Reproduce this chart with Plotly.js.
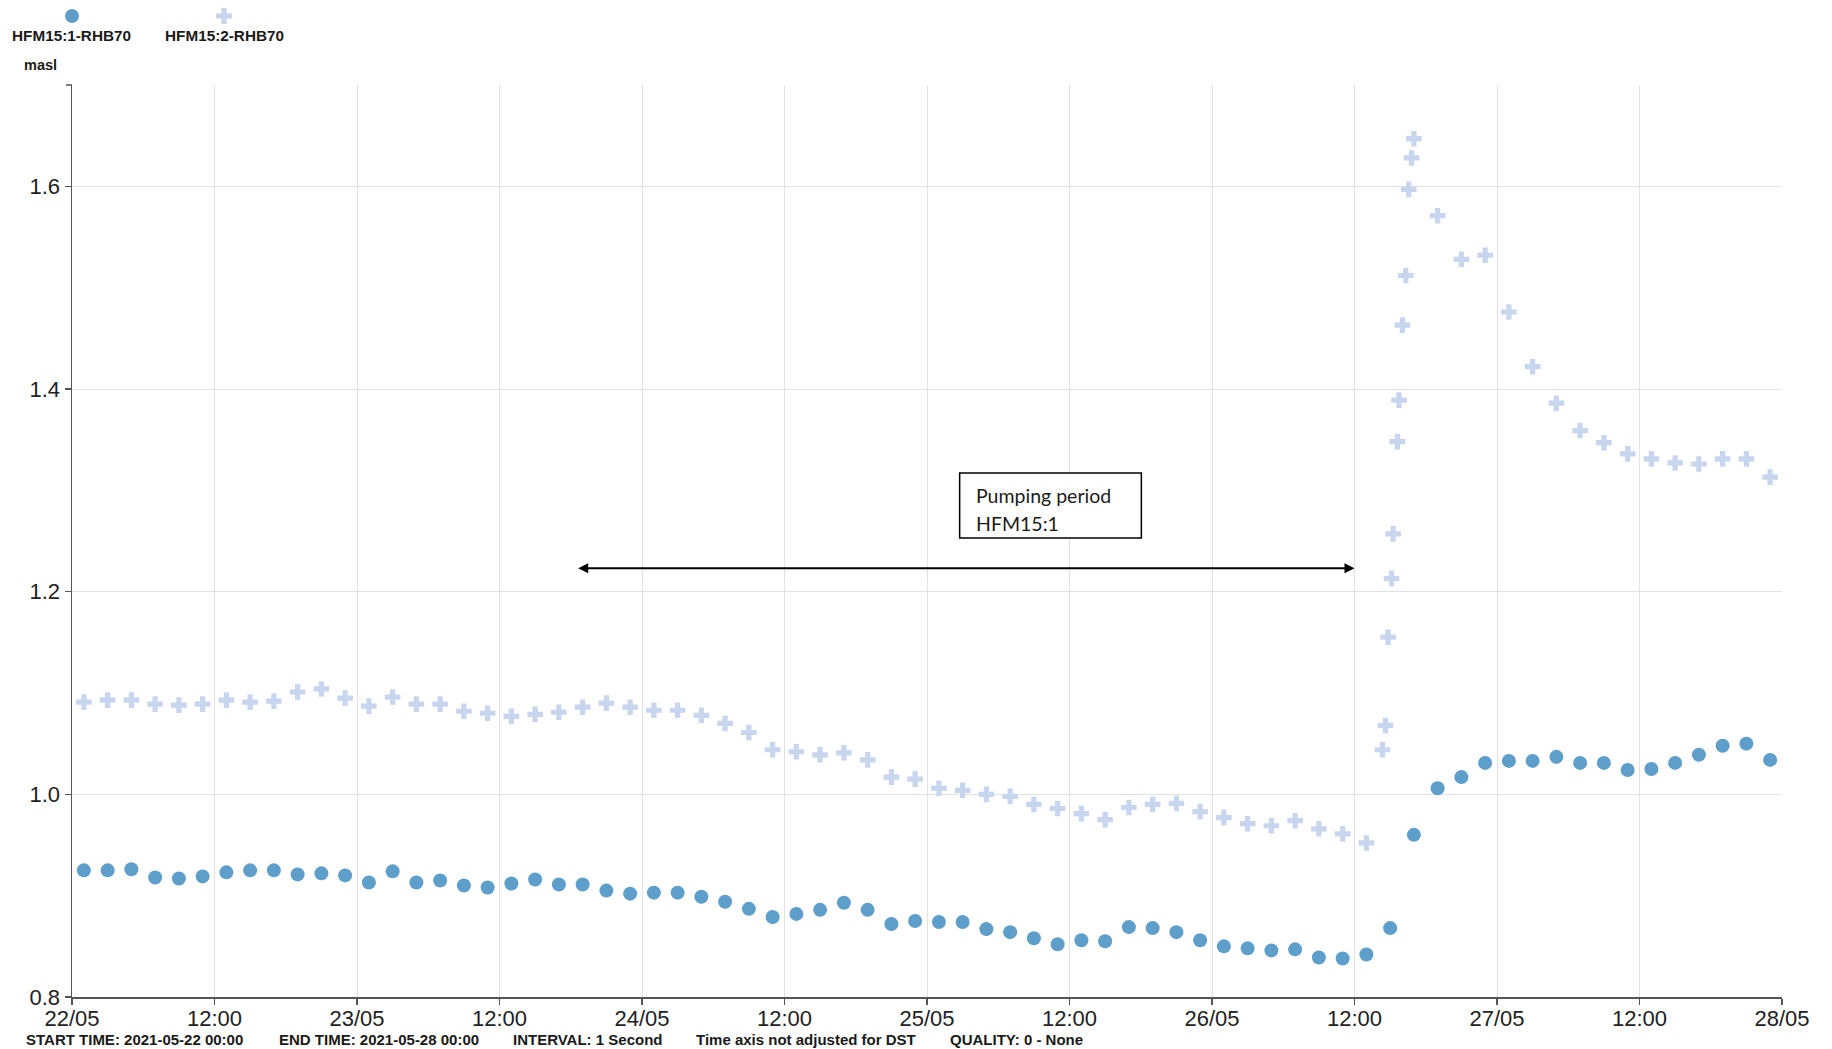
<!DOCTYPE html>
<html>
<head>
<meta charset="utf-8">
<script src="https://cdn.plot.ly/plotly-3.0.1.min.js"></script>
<style>
  html, body { margin: 0; padding: 0; background: #ffffff; }
  #chart { width: 1832px; height: 1049px; }
</style>
</head>
<body>
<div id="chart"></div>
<script>
// HFM15:1-RHB70 — sampled every two hours
const hfm151Times = [
  '2021-05-22 01:00','2021-05-22 03:00','2021-05-22 05:00','2021-05-22 07:00','2021-05-22 09:00','2021-05-22 11:00',
  '2021-05-22 13:00','2021-05-22 15:00','2021-05-22 17:00','2021-05-22 19:00','2021-05-22 21:00','2021-05-22 23:00',
  '2021-05-23 01:00','2021-05-23 03:00','2021-05-23 05:00','2021-05-23 07:00','2021-05-23 09:00','2021-05-23 11:00',
  '2021-05-23 13:00','2021-05-23 15:00','2021-05-23 17:00','2021-05-23 19:00','2021-05-23 21:00','2021-05-23 23:00',
  '2021-05-24 01:00','2021-05-24 03:00','2021-05-24 05:00','2021-05-24 07:00','2021-05-24 09:00','2021-05-24 11:00',
  '2021-05-24 13:00','2021-05-24 15:00','2021-05-24 17:00','2021-05-24 19:00','2021-05-24 21:00','2021-05-24 23:00',
  '2021-05-25 01:00','2021-05-25 03:00','2021-05-25 05:00','2021-05-25 07:00','2021-05-25 09:00','2021-05-25 11:00',
  '2021-05-25 13:00','2021-05-25 15:00','2021-05-25 17:00','2021-05-25 19:00','2021-05-25 21:00','2021-05-25 23:00',
  '2021-05-26 01:00','2021-05-26 03:00','2021-05-26 05:00','2021-05-26 07:00','2021-05-26 09:00','2021-05-26 11:00',
  '2021-05-26 13:00','2021-05-26 15:00','2021-05-26 17:00','2021-05-26 19:00','2021-05-26 21:00','2021-05-26 23:00',
  '2021-05-27 01:00','2021-05-27 03:00','2021-05-27 05:00','2021-05-27 07:00','2021-05-27 09:00','2021-05-27 11:00',
  '2021-05-27 13:00','2021-05-27 15:00','2021-05-27 17:00','2021-05-27 19:00','2021-05-27 21:00','2021-05-27 23:00'
];
const hfm151Level = [
  0.925, 0.925, 0.926, 0.918, 0.917, 0.919, 0.923, 0.925, 0.925, 0.921, 0.922, 0.920,
  0.913, 0.924, 0.913, 0.915, 0.910, 0.908, 0.912, 0.916, 0.911, 0.911, 0.905, 0.902,
  0.903, 0.903, 0.899, 0.894, 0.887, 0.879, 0.882, 0.886, 0.893, 0.886, 0.872, 0.875,
  0.874, 0.874, 0.867, 0.864, 0.858, 0.852, 0.856, 0.855, 0.869, 0.868, 0.864, 0.856,
  0.850, 0.848, 0.846, 0.847, 0.839, 0.838, 0.842, 0.868, 0.960, 1.006, 1.017, 1.031,
  1.033, 1.033, 1.037, 1.031, 1.031, 1.024, 1.025, 1.031, 1.039, 1.048, 1.050, 1.034
];

// HFM15:2-RHB70 — two-hourly, denser while the pump stops on 26/05
const hfm152Times = [
  '2021-05-22 01:00','2021-05-22 03:00','2021-05-22 05:00','2021-05-22 07:00','2021-05-22 09:00','2021-05-22 11:00',
  '2021-05-22 13:00','2021-05-22 15:00','2021-05-22 17:00','2021-05-22 19:00','2021-05-22 21:00','2021-05-22 23:00',
  '2021-05-23 01:00','2021-05-23 03:00','2021-05-23 05:00','2021-05-23 07:00','2021-05-23 09:00','2021-05-23 11:00',
  '2021-05-23 13:00','2021-05-23 15:00','2021-05-23 17:00','2021-05-23 19:00','2021-05-23 21:00','2021-05-23 23:00',
  '2021-05-24 01:00','2021-05-24 03:00','2021-05-24 05:00','2021-05-24 07:00','2021-05-24 09:00','2021-05-24 11:00',
  '2021-05-24 13:00','2021-05-24 15:00','2021-05-24 17:00','2021-05-24 19:00','2021-05-24 21:00','2021-05-24 23:00',
  '2021-05-25 01:00','2021-05-25 03:00','2021-05-25 05:00','2021-05-25 07:00','2021-05-25 09:00','2021-05-25 11:00',
  '2021-05-25 13:00','2021-05-25 15:00','2021-05-25 17:00','2021-05-25 19:00','2021-05-25 21:00','2021-05-25 23:00',
  '2021-05-26 01:00','2021-05-26 03:00','2021-05-26 05:00','2021-05-26 07:00','2021-05-26 09:00','2021-05-26 11:00',
  '2021-05-26 13:00',
  '2021-05-26 14:21','2021-05-26 14:37','2021-05-26 14:50','2021-05-26 15:07','2021-05-26 15:15','2021-05-26 15:37',
  '2021-05-26 15:45','2021-05-26 16:02','2021-05-26 16:19','2021-05-26 16:34','2021-05-26 16:48',
  '2021-05-26 17:00','2021-05-26 19:00','2021-05-26 21:00','2021-05-26 23:00',
  '2021-05-27 01:00','2021-05-27 03:00','2021-05-27 05:00','2021-05-27 07:00','2021-05-27 09:00','2021-05-27 11:00',
  '2021-05-27 13:00','2021-05-27 15:00','2021-05-27 17:00','2021-05-27 19:00','2021-05-27 21:00','2021-05-27 23:00'
];
const hfm152Level = [
  1.091, 1.093, 1.093, 1.089, 1.088, 1.089, 1.093, 1.091, 1.092, 1.101, 1.104, 1.095,
  1.087, 1.096, 1.089, 1.089, 1.082, 1.080, 1.077, 1.079, 1.081, 1.086, 1.090, 1.086,
  1.083, 1.083, 1.078, 1.070, 1.061, 1.044, 1.042, 1.039, 1.041, 1.034, 1.017, 1.015,
  1.006, 1.004, 1.000, 0.998, 0.990, 0.986, 0.981, 0.975, 0.987, 0.990, 0.991, 0.983,
  0.977, 0.971, 0.969, 0.974, 0.966, 0.961,
  0.952,
  1.044, 1.068, 1.155, 1.213, 1.257, 1.348,
  1.389, 1.463, 1.512, 1.597, 1.628,
  1.647, 1.571, 1.528, 1.532,
  1.476, 1.422, 1.386, 1.359, 1.347, 1.336,
  1.331, 1.327, 1.326, 1.331, 1.331, 1.313
];

const seriesNames = ['HFM15:1-RHB70', 'HFM15:2-RHB70'];
const seriesColors = ['#5e9ecb', '#c7d6ee'];

const xTickVals = [
  '2021-05-22 00:00','2021-05-22 12:00','2021-05-23 00:00','2021-05-23 12:00','2021-05-24 00:00','2021-05-24 12:00',
  '2021-05-25 00:00','2021-05-25 12:00','2021-05-26 00:00','2021-05-26 12:00','2021-05-27 00:00','2021-05-27 12:00',
  '2021-05-28 00:00'
];
const xTickText = ['22/05','12:00','23/05','12:00','24/05','12:00','25/05','12:00','26/05','12:00','27/05','12:00','28/05'];
const yTickVals = [0.8, 1.0, 1.2, 1.4, 1.6];
const yTickText = ['0.8', '1.0', '1.2', '1.4', '1.6'];

// pumping period of HFM15:1 and its label
const pumpStart = '2021-05-23 18:30';
const pumpStop = '2021-05-26 12:00';
const pumpArrowLevel = 1.223;
const pumpLabelLines = ['Pumping period', 'HFM15:1'];

const footerItems = [
  { text: 'START TIME: 2021-05-22 00:00', left: 24 },
  { text: 'END TIME: 2021-05-28 00:00', left: 277 },
  { text: 'INTERVAL: 1 Second', left: 511 },
  { text: 'Time axis not adjusted for DST', left: 694 },
  { text: 'QUALITY: 0 - None', left: 948 }
];

const M = { l: 72, r: 50, t: 85, b: 52 };
const axisColor = '#555555';
const gridColor = '#e2e2e2';
const sansFont = 'Liberation Sans, Arial, sans-serif';
const boxFont = 'Lato, Open Sans, sans-serif';

const traces = [
  {
    type: 'scatter', mode: 'markers', name: seriesNames[1],
    x: hfm152Times, y: hfm152Level,
    marker: { symbol: 'cross', size: 13, color: seriesColors[1], line: { width: 0 } },
    hoverinfo: 'skip'
  },
  {
    type: 'scatter', mode: 'markers', name: seriesNames[0],
    x: hfm151Times, y: hfm151Level,
    marker: { symbol: 'circle', size: 14, color: seriesColors[0], line: { width: 0 } },
    hoverinfo: 'skip'
  }
];

// legend cross, in pixels from the plot's top-left corner (y up)
function legendCross(cx, cy, a, b) {
  const pts = [[-a,-b],[-b,-b],[-b,-a],[b,-a],[b,-b],[a,-b],[a,b],[b,b],[b,a],[-b,a],[-b,b],[-a,b]];
  return 'M' + pts.map(p => (cx + p[0]) + ',' + (cy + p[1])).join('L') + 'Z';
}

const shapes = [
  // short end tick at the top of the y axis
  { type: 'line', xref: 'paper', yref: 'paper', xsizemode: 'pixel', xanchor: 0,
    x0: -6, x1: 0, y0: 1, y1: 1, line: { color: axisColor, width: 1.5 } },
  // legend markers
  { type: 'circle', xref: 'paper', yref: 'paper', xsizemode: 'pixel', ysizemode: 'pixel',
    xanchor: 0, yanchor: 1, x0: -7, x1: 7, y0: 62, y1: 76,
    fillcolor: seriesColors[0], line: { width: 0 } },
  { type: 'path', xref: 'paper', yref: 'paper', xsizemode: 'pixel', ysizemode: 'pixel',
    xanchor: 0, yanchor: 1, path: legendCross(152, 69, 8, 2.6),
    fillcolor: seriesColors[1], line: { width: 0 } },
  // frame round the pumping-period label
  { type: 'rect', xref: 'x', yref: 'y',
    x0: '2021-05-25 02:45', x1: '2021-05-25 18:03', y0: 1.253, y1: 1.317,
    fillcolor: '#ffffff', line: { color: '#000000', width: 1.5 }, layer: 'above' }
];

const annotations = [
  { xref: 'paper', yref: 'paper', x: 0, y: 1, xanchor: 'left', yanchor: 'middle',
    xshift: -62, yshift: 50, showarrow: false, text: '<b>' + seriesNames[0] + '</b>',
    font: { family: sansFont, size: 15.3, color: '#1a1a1a' } },
  { xref: 'paper', yref: 'paper', x: 0, y: 1, xanchor: 'left', yanchor: 'middle',
    xshift: 91, yshift: 50, showarrow: false, text: '<b>' + seriesNames[1] + '</b>',
    font: { family: sansFont, size: 15.3, color: '#1a1a1a' } },
  { xref: 'paper', yref: 'paper', x: 0, y: 1, xanchor: 'left', yanchor: 'middle',
    xshift: -50, yshift: 20, showarrow: false, text: '<b>masl</b>',
    font: { family: sansFont, size: 14.5, color: '#1a1a1a' } },
  // pumping period arrow
  { xref: 'x', yref: 'y', axref: 'x', ayref: 'y',
    x: pumpStop, y: pumpArrowLevel, ax: pumpStart, ay: pumpArrowLevel,
    text: '', showarrow: true, arrowside: 'end+start',
    arrowhead: 2, startarrowhead: 2, arrowsize: 1, startarrowsize: 1,
    arrowwidth: 2, arrowcolor: '#000000', standoff: 0, startstandoff: 0 },
  // label lines inside the frame
  { xref: 'x', yref: 'y', x: '2021-05-25 03:56', y: 1.2945, xanchor: 'left', yanchor: 'middle',
    showarrow: false, text: pumpLabelLines[0],
    font: { family: boxFont, size: 19.5, color: '#1a1a1a' } },
  { xref: 'x', yref: 'y', x: '2021-05-25 03:56', y: 1.2669, xanchor: 'left', yanchor: 'middle',
    showarrow: false, text: pumpLabelLines[1],
    font: { family: boxFont, size: 19.5, color: '#1a1a1a' } }
];
footerItems.forEach(f => annotations.push({
  xref: 'paper', yref: 'paper', x: 0, y: 0, xanchor: 'left', yanchor: 'middle',
  xshift: f.left - M.l, yshift: -42, showarrow: false, text: '<b>' + f.text + '</b>',
  font: { family: sansFont, size: 15, color: '#1a1a1a' }
}));

const layout = {
  width: 1832, height: 1049,
  margin: M,
  paper_bgcolor: '#ffffff', plot_bgcolor: '#ffffff',
  showlegend: false,
  xaxis: {
    type: 'date',
    range: ['2021-05-22 00:00', '2021-05-28 00:00'],
    tickmode: 'array', tickvals: xTickVals, ticktext: xTickText,
    showgrid: true, gridcolor: gridColor, gridwidth: 1,
    showline: true, linecolor: axisColor, linewidth: 1.5,
    ticks: 'outside', ticklen: 6, tickwidth: 1.5, tickcolor: axisColor,
    ticklabelstandoff: -5,
    tickfont: { family: sansFont, size: 22, color: '#222222' },
    zeroline: false, fixedrange: true
  },
  yaxis: {
    range: [0.8, 1.7],
    tickmode: 'array', tickvals: yTickVals, ticktext: yTickText,
    showgrid: true, gridcolor: gridColor, gridwidth: 1,
    showline: true, linecolor: axisColor, linewidth: 1.5,
    ticks: 'outside', ticklen: 6, tickwidth: 1.5, tickcolor: axisColor,
    tickfont: { family: sansFont, size: 22, color: '#222222' },
    zeroline: false, fixedrange: true
  },
  shapes: shapes,
  annotations: annotations
};

Plotly.newPlot('chart', traces, layout, { displayModeBar: false, staticPlot: true });
</script>
</body>
</html>
